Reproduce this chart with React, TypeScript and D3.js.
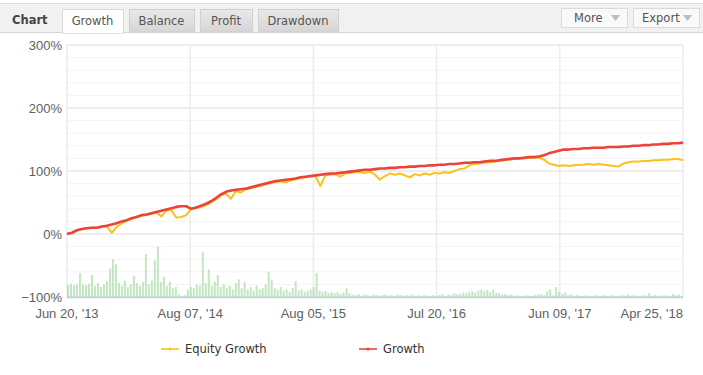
import React from "react";
import * as d3 from "d3";

// tick labels along the bottom (evenly spaced in the original chart)
const dateLabels = ["Jun 20, '13", "Aug 07, '14", "Aug 05, '15", "Jul 20, '16", "Jun 09, '17", "Apr 25, '18"];
const yTicks = [-100, 0, 100, 200, 300];
const tabs = ["Growth", "Balance", "Profit", "Drawdown"];

// Growth (%)
const growth = [
  0, 2, 6, 8, 9, 10, 10, 12, 13, 15, 17, 20, 22, 25, 27, 30, 31, 33, 35, 37,
  39, 41, 43, 44, 44, 40, 42, 45, 48, 52, 57, 63, 67, 69, 70, 71, 72, 74, 76, 78,
  80, 82, 84, 85, 86, 87, 88, 90, 91, 92, 93, 94, 95, 96, 96, 97, 98, 99, 100, 101,
  102, 102, 103, 104, 104, 105, 105, 106, 106, 107, 107, 108, 108, 109, 109, 110, 110, 111, 111, 112,
  113, 113, 114, 114, 115, 116, 116, 117, 118, 119, 120, 120, 121, 122, 122, 123, 125, 128, 130, 132,
  134, 134, 135, 135, 136, 136, 137, 137, 137, 138, 138, 138, 139, 139, 140, 140, 141, 141, 142, 142,
  143, 143, 144, 144, 145,
];

// Equity Growth (%)
const equity = [
  0, 2, 6, 8, 9, 10, 10, 11, 12, 2, 11, 17, 21, 24, 27, 29, 30, 32, 34, 28,
  37, 38, 26, 27, 30, 40, 41, 43, 46, 50, 55, 61, 64, 56, 68, 66, 71, 73, 75, 76,
  79, 81, 82, 84, 82, 85, 87, 89, 90, 91, 92, 76, 93, 94, 95, 91, 96, 97, 98, 98,
  97, 99, 94, 86, 92, 96, 94, 96, 93, 90, 95, 93, 96, 94, 97, 96, 98, 97, 100, 103,
  104, 109, 111, 112, 113, 114, 115, 116, 117, 118, 119, 120, 120, 121, 122, 121, 118, 112, 110, 108,
  109, 108, 109, 110, 110, 111, 110, 111, 110, 109, 108, 107, 112, 114, 115, 115, 116, 116, 117, 117,
  118, 118, 119, 119, 117,
];

// green histogram at the bottom (height above the -100% line, same % units)
const bars = [
  19, 21, 19, 20, 38, 20, 19, 21, 35, 18, 22, 16, 20, 25, 45, 60, 52, 22, 18, 26,
  16, 20, 34, 22, 18, 24, 68, 20, 26, 58, 80, 24, 32, 18, 24, 14, 16, 4, 2, 3,
  12, 16, 14, 20, 18, 72, 22, 44, 18, 24, 35, 16, 20, 14, 18, 12, 22, 28, 14, 24,
  12, 16, 10, 18, 12, 14, 20, 40, 28, 14, 12, 16, 10, 12, 8, 14, 25, 10, 12, 8,
  10, 12, 16, 38, 10, 8, 10, 6, 8, 6, 8, 5, 7, 14, 6, 4, 3, 5, 2, 4,
  3, 2, 4, 3, 2, 3, 4, 2, 3, 2, 4, 3, 2, 3, 2, 4, 2, 3, 2, 3,
  2, 2, 3, 2, 3, 5, 2, 4, 3, 6, 4, 5, 7, 6, 8, 9, 7, 10, 12, 9,
  11, 8, 12, 7, 6, 4, 5, 3, 4, 2, 3, 2, 2, 3, 2, 2, 3, 4, 5, 3,
  9, 12, 3, 16, 8, 5, 7, 3, 4, 2, 3, 2, 2, 3, 2, 2, 3, 2, 2, 3,
  2, 2, 3, 2, 2, 3, 2, 4, 2, 3, 2, 2, 3, 2, 6, 2, 3, 2, 2, 3,
  2, 2, 5, 3, 4, 2,
];

const W = 703;
const H = 375;
const plot = { left: 67, right: 683, top: 45, bottom: 297 };

const RED = "#ec4238";
const YELLOW = "#fcc21b";

const App: React.FC = () => {
  const x = d3.scaleLinear().domain([0, growth.length - 1]).range([plot.left, plot.right]);
  const xBar = d3.scaleLinear().domain([0, bars.length - 1]).range([plot.left + 1, plot.right - 1]);
  const y = d3.scaleLinear().domain([-100, 300]).range([plot.bottom, plot.top]);

  const line = d3.line<number>().x((_, i) => x(i)).y(d => y(d));
  const minorTicks = d3.range(-100, 301, 20).filter(v => v % 100 !== 0);
  const tickPos = dateLabels.map((_, k) => x(((growth.length - 1) * k) / (dateLabels.length - 1)));

  const tabX = [62, 129, 200, 258];
  const tabW = [61, 65, 52, 80];

  return (
    <div style={{ position: "fixed", left: 0, top: 0 }}>
      <svg width={W} height={H} style={{ display: "block", background: "#fff" }}>
        <defs>
          <linearGradient id="tabg" x1="0" y1="0" x2="0" y2="1">
            <stop offset="0" stopColor="#e9e9e9" />
            <stop offset="1" stopColor="#d5d5d5" />
          </linearGradient>
        </defs>

        {/* header bar */}
        <rect x={0} y={3} width={W} height={29} fill="#f1f1f1" />
        <line x1={0} x2={W} y1={3.5} y2={3.5} stroke="#dcdcdc" />
        <line x1={0} x2={W} y1={32.5} y2={32.5} stroke="#d6d6d6" />
        <text x={12} y={24} fontFamily="DejaVu Sans" fontWeight="bold" fontSize={11.5} fill="#444">Chart</text>
        {tabs.map((t, i) => (
          <g key={t}>
            <rect x={tabX[i] + 0.5} y={9.5} width={tabW[i]} height={i === 0 ? 24 : 22.5}
              fill={i === 0 ? "#fff" : "url(#tabg)"} stroke={i === 0 ? "#d8d8d8" : "#cfcfcf"} />
            <text x={tabX[i] + tabW[i] / 2} y={25} textAnchor="middle" fontFamily="DejaVu Sans" fontSize={11.5}
              fill="#555">{t}</text>
          </g>
        ))}
        {/* active tab merges into the panel below */}
        <line x1={63} x2={123} y1={32.5} y2={32.5} stroke="#fff" strokeWidth={1.5} />
        {["More", "Export"].map((b, i) => {
          const bx = i === 0 ? 561 : 633;
          const bw = 66;
          return (
            <g key={b}>
              <rect x={bx + 0.5} y={8.5} width={bw} height={19} fill="#f9f9f9" stroke="#dadada" />
              <text x={bx + (i === 0 ? 13 : 9)} y={22} fontFamily="DejaVu Sans" fontSize={11.5} fill="#555">{b}</text>
              <path d={`M${bx + bw - 16},15 h9 l-4.5,6 z`} fill="#bdbdbd" />
            </g>
          );
        })}

        {/* grid */}
        {minorTicks.map(v => (
          <line key={"m" + v} x1={plot.left} x2={plot.right} y1={y(v)} y2={y(v)} stroke="#f4f4f4" strokeWidth={1} />
        ))}
        {yTicks.map(v => (
          <line key={"g" + v} x1={plot.left} x2={plot.right} y1={y(v)} y2={y(v)} stroke="#e8e8e8" strokeWidth={1.5} />
        ))}
        {tickPos.map((p, k) => (
          <line key={"v" + k} x1={p} x2={p} y1={plot.top} y2={plot.bottom} stroke="#ececec" strokeWidth={1.5} />
        ))}

        {/* histogram */}
        <g fill="#9bd69b" fillOpacity={0.6}>
          {bars.map((v, i) => (
            <rect key={i} x={xBar(i) - 1} width={2} y={y(-100 + v)} height={y(-100) - y(-100 + v)} />
          ))}
        </g>

        {/* lines */}
        <path d={line(equity) || ""} fill="none" stroke={YELLOW} strokeWidth={2} strokeLinejoin="round" />
        <path d={line(growth) || ""} fill="none" stroke={RED} strokeWidth={2.6} strokeLinejoin="round" />

        {/* x axis line */}
        <line x1={plot.left} x2={plot.right} y1={plot.bottom + 0.5} y2={plot.bottom + 0.5} stroke="#c0d0e0" strokeWidth={1.5} />

        {/* y labels */}
        {yTicks.map(v => (
          <text key={"yl" + v} x={62} y={y(v) + 5} textAnchor="end" fontFamily="Liberation Sans, Arial" fontSize={13} fill="#606060">
            {v < 0 ? "\u2212" + Math.abs(v) + "%" : v + "%"}
          </text>
        ))}

        {/* x labels */}
        {dateLabels.map((d, k) => (
          <text key={d} x={k === dateLabels.length - 1 ? plot.right : tickPos[k]} y={318}
            textAnchor={k === dateLabels.length - 1 ? "end" : "middle"}
            fontFamily="Liberation Sans, Arial" fontSize={13} fill="#606060">{d}</text>
        ))}

        {/* legend */}
        {[{ name: "Equity Growth", c: YELLOW, lx: 161 }, { name: "Growth", c: RED, lx: 359 }].map(l => (
          <g key={l.name}>
            <line x1={l.lx} x2={l.lx + 18} y1={349} y2={349} stroke={l.c} strokeOpacity={0.8} strokeWidth={2} />
            <circle cx={l.lx + 9} cy={349} r={1.5} fill={l.c} />
            <text x={l.lx + 24} y={353} fontFamily="DejaVu Sans" fontSize={11.5} fill="#333">{l.name}</text>
          </g>
        ))}
      </svg>
    </div>
  );
};

export default App;
